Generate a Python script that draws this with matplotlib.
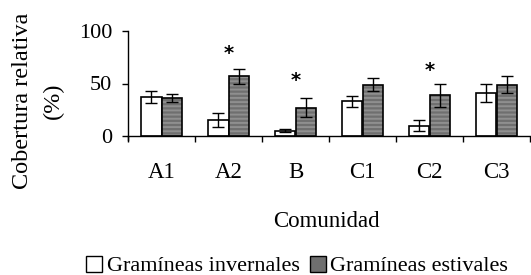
import matplotlib
matplotlib.use("Agg")
import matplotlib.pyplot as plt
from matplotlib.patches import Patch
import numpy as np

plt.rcParams['font.family'] = ['Liberation Serif', 'DejaVu Serif']
plt.rcParams['hatch.linewidth'] = 1.4
plt.rcParams['hatch.color'] = '#8f8f8f'

categories = ["A1", "A2", "B", "C1", "C2", "C3"]
invernales = [37, 15, 5, 33, 10, 41]
invernales_err = [5.5, 6.5, 1.5, 5.5, 5.2, 8.5]
estivales = [36, 57, 27, 49, 39, 49]
estivales_err = [4, 7, 9, 6.5, 11, 8.5]
significant = [False, True, True, False, True, False]
star_y = [0, 79, 53, 0, 62, 0]
series_names = ["Gramíneas invernales", "Gramíneas estivales"]
yticks = [0, 50, 100]

W, H = 531, 275
fig = plt.figure(figsize=(W/100, H/100), dpi=100)
ymin = -3.5
px_per_unit = 1.05
y0 = 136
bottom_px = y0 - ymin * px_per_unit
top_px = y0 - 100 * px_per_unit
ax = fig.add_axes([128/W, (H - bottom_px)/H, 402/W, (bottom_px - top_px)/H])

x = np.arange(len(categories))
w = 0.3
grey = '#6f6f6f'
ax.bar(x - w/2, invernales, w, color='white', edgecolor='black', linewidth=1.2, zorder=2)
ax.bar(x + w/2, estivales, w, color=grey, edgecolor='#8f8f8f', hatch='----', linewidth=0, zorder=2)
ax.bar(x + w/2, estivales, w, color='none', edgecolor='black', linewidth=1.2, zorder=3)
ax.errorbar(x - w/2, invernales, yerr=invernales_err, fmt='none', ecolor='black',
            elinewidth=1, capsize=4, capthick=1, zorder=4)
ax.errorbar(x + w/2, estivales, yerr=estivales_err, fmt='none', ecolor='black',
            elinewidth=1, capsize=4, capthick=1, zorder=4)
for xi, s, sy in zip(x, significant, star_y):
    if s:
        ax.text(xi, sy, "*", ha='center', va='center', fontsize=14, family='DejaVu Sans',
                fontweight='bold', clip_on=False)

ax.set_xlim(-0.5, len(categories) - 0.5)
ax.set_ylim(ymin, 100)
ax.spines['bottom'].set_position(('data', 0))
ax.set_yticks(yticks)
ax.tick_params(axis='y', labelsize=16, length=4.5, width=1, direction='out', pad=7)
ax.set_xticks(np.arange(len(categories) + 1) - 0.5)
ax.set_xticklabels([])
ax.set_xticks(x, minor=True)
ax.set_xticklabels(categories, minor=True)
ax.tick_params(axis='x', which='major', length=4, width=1, direction='out')
ax.tick_params(axis='x', which='minor', length=0, labelsize=16.5, pad=19)
for sp in ['top', 'right']:
    ax.spines[sp].set_visible(False)
ax.spines['left'].set_linewidth(1)
ax.spines['bottom'].set_linewidth(1)

fig.text(23/W, 1 - 101/H, "Cobertura relativa", rotation=90, ha='center', va='center', fontsize=17.5)
fig.text(53/W, 1 - 101/H, "(%)", rotation=90, ha='center', va='center', fontsize=17.5)
fig.text(326/W, 1 - 227/H, "Comunidad", ha='center', va='baseline', fontsize=16.5)

handles = [Patch(facecolor='white', edgecolor='black', linewidth=1),
           Patch(facecolor=grey, edgecolor='black', linewidth=1)]
fig.legend(handles, series_names, loc='center', bbox_to_anchor=(297/W, 1 - 266/H),
           ncol=2, frameon=False, fontsize=16, handlelength=0.72, handleheight=0.72,
           handletextpad=0.22, columnspacing=0.45, borderpad=0)

fig.savefig("out.png", dpi=100)
